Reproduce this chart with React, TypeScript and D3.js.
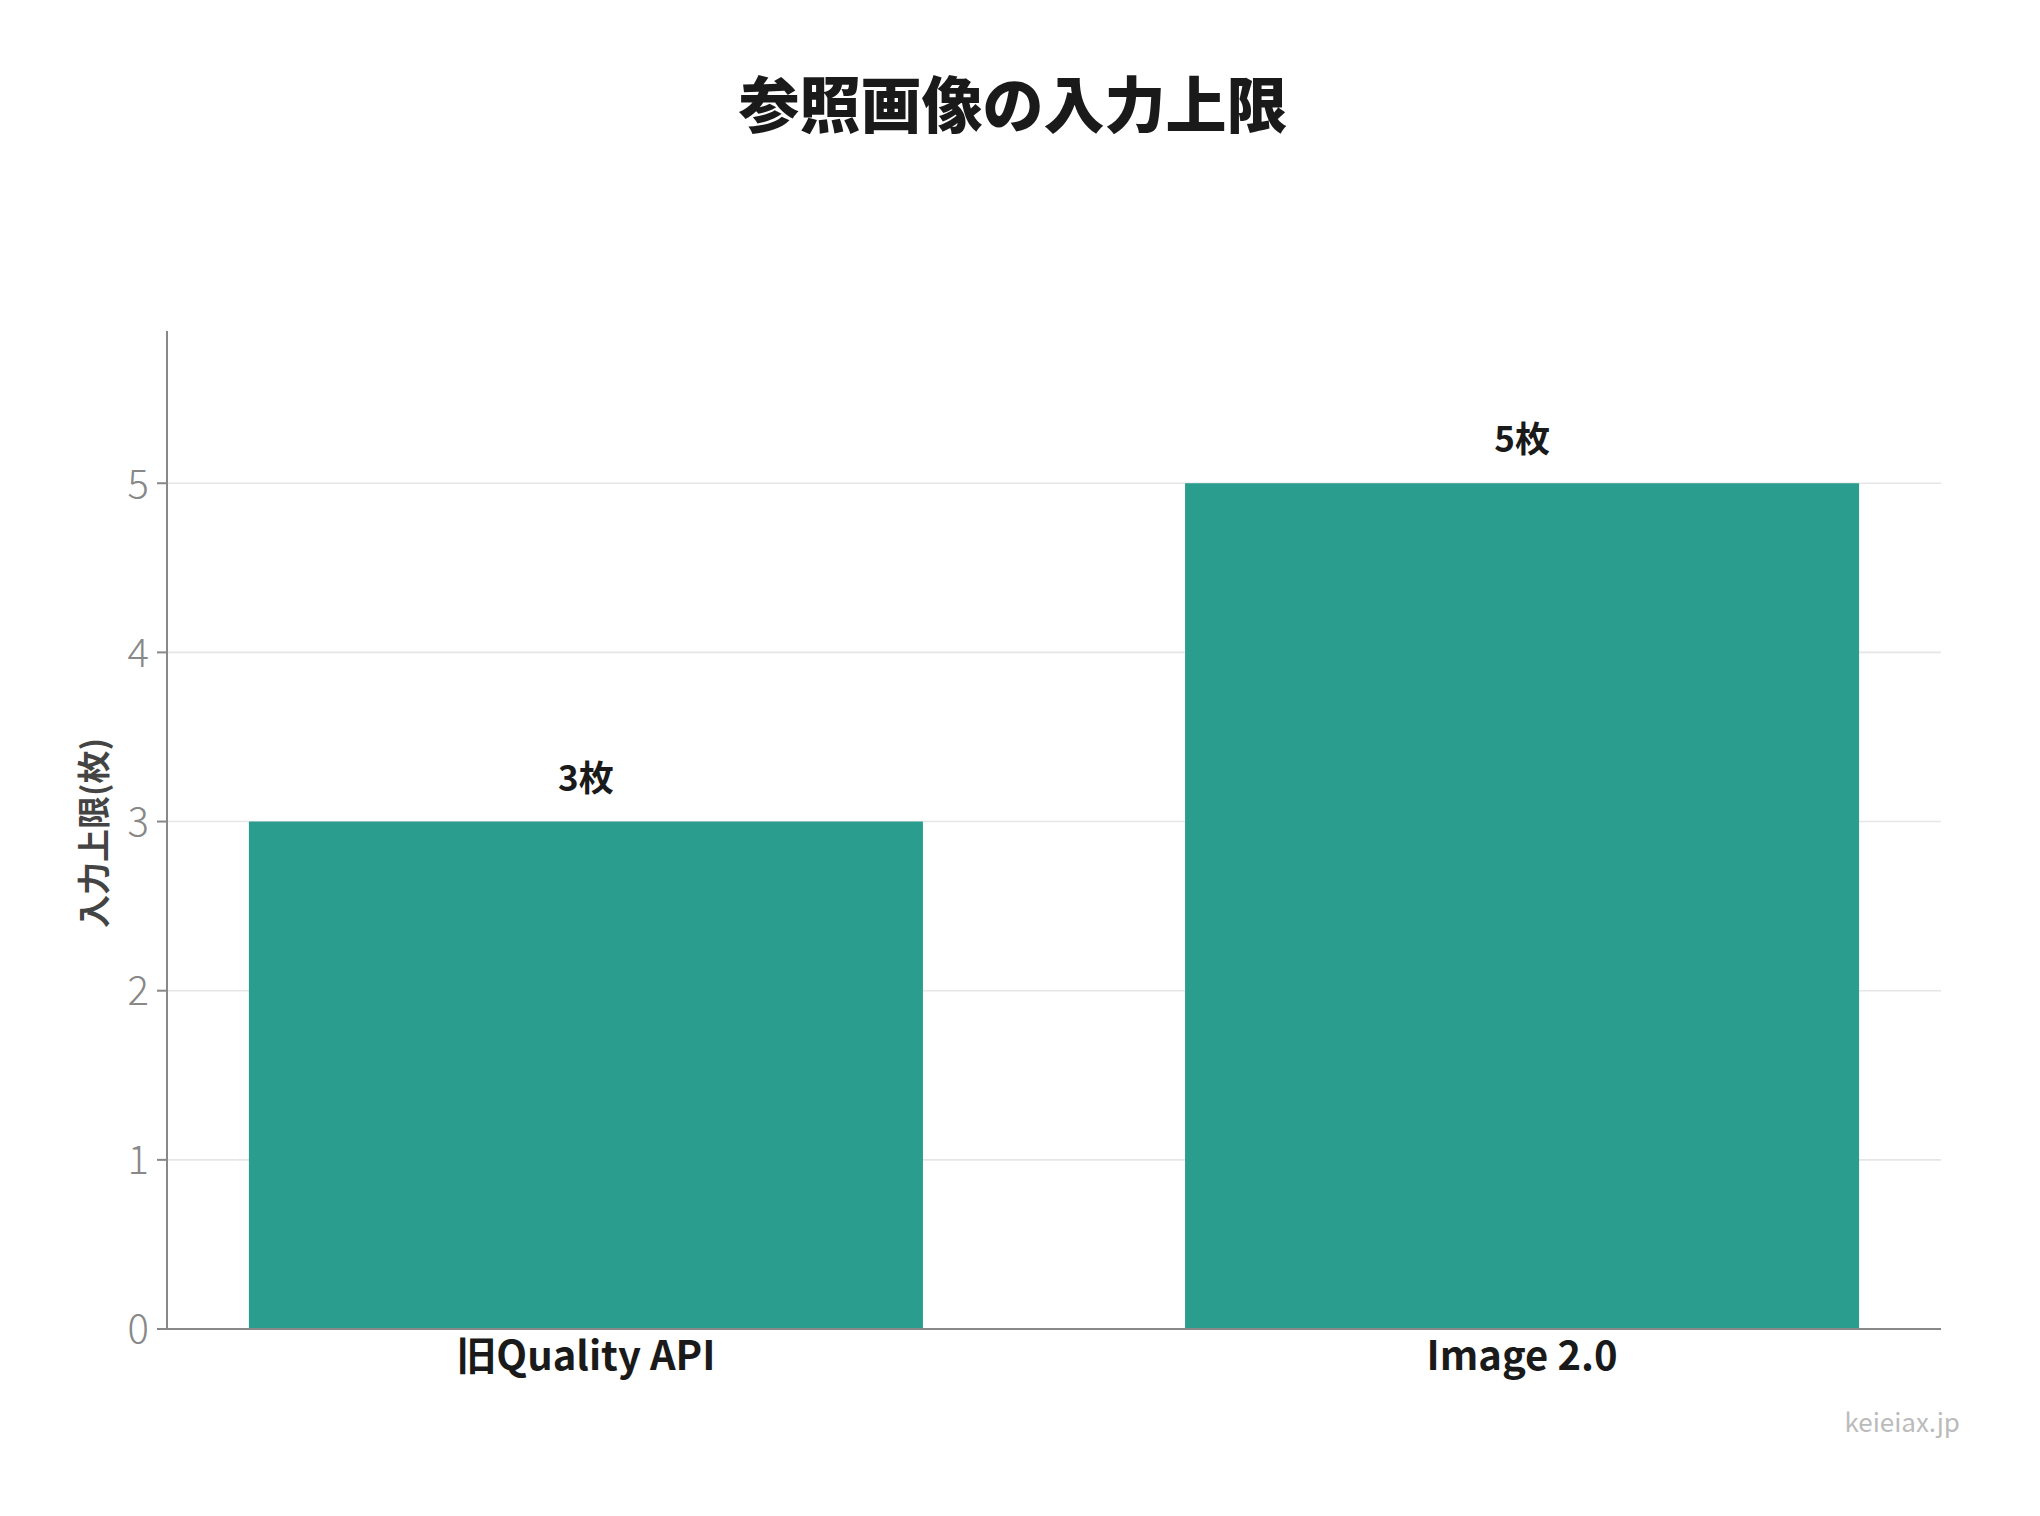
import React from "react";
import * as d3 from "d3";

const categories = ["旧Quality API", "Image 2.0"];
const values = [3, 5];
const valueLabels = ["3枚", "5枚"];
const yTicks = [0, 1, 2, 3, 4, 5];
const title = "参照画像の入力上限";
const yAxisLabel = "入力上限(枚)";
const watermark = "keieiax.jp";

const W = 2040;
const H = 1516;
const margin = { left: 167, right: 2040 - 1941, top: 331, bottom: 1516 - 1329 };
const FONT = "'Noto Sans CJK JP', 'Noto Sans', sans-serif";

export default function App() {
  const x = d3
    .scaleBand<string>()
    .domain(categories)
    .range([margin.left, W - margin.right])
    .paddingInner(0.28)
    .paddingOuter(0.0875);
  const y = d3
    .scaleLinear()
    .domain([0, 5.9])
    .range([H - margin.bottom, margin.top]);
  const x0 = margin.left;
  const x1 = W - margin.right;
  const y0 = y(0);

  return (
    <svg
      width={W}
      height={H}
      viewBox={`0 0 ${W} ${H}`}
      style={{ position: "absolute", left: 0, top: 0, background: "#fff" }}
    >
      <rect x={0} y={0} width={W} height={H} fill="#fff" />
      <text
        x={1013}
        y={128}
        textAnchor="middle"
        fontFamily={FONT}
        fontWeight={900}
        fontSize={61}
        fill="#1a1a1a"
      >
        {title}
      </text>
      {/* grid */}
      {yTicks.map((t) => (
        <line
          key={"g" + t}
          x1={x0}
          x2={x1}
          y1={y(t)}
          y2={y(t)}
          stroke="#e6e6e6"
          strokeWidth={1.6}
        />
      ))}
      {/* bars */}
      {categories.map((c, i) => (
        <rect
          key={c}
          x={x(c)}
          y={y(values[i])}
          width={x.bandwidth()}
          height={y0 - y(values[i])}
          fill="#2a9d8f"
        />
      ))}
      {/* value labels */}
      {categories.map((c, i) => (
        <text
          key={"v" + c}
          x={(x(c) as number) + x.bandwidth() / 2}
          y={y(values[i]) - 31}
          textAnchor="middle"
          fontFamily={FONT}
          fontWeight={700}
          fontSize={35}
          fill="#1a1a1a"
        >
          {valueLabels[i]}
        </text>
      ))}
      {/* axes */}
      <line x1={x0} x2={x0} y1={margin.top} y2={y0} stroke="#888" strokeWidth={2} />
      <line x1={x0} x2={x1} y1={y0} y2={y0} stroke="#888" strokeWidth={2} />
      {yTicks.map((t) => (
        <g key={"t" + t}>
          <line x1={x0 - 10} x2={x0} y1={y(t)} y2={y(t)} stroke="#888" strokeWidth={2} />
          <text
            x={x0 - 18}
            y={y(t)}
            dy="0.36em"
            textAnchor="end"
            fontFamily={FONT}
            fontWeight={300}
            fontSize={40}
            fill="#888"
          >
            {t}
          </text>
        </g>
      ))}
      {categories.map((c) => (
        <text
          key={"x" + c}
          x={(x(c) as number) + x.bandwidth() / 2}
          y={y0 + 41}
          textAnchor="middle"
          fontFamily={FONT}
          fontWeight={700}
          fontSize={40}
          fill="#1a1a1a"
        >
          {c}
        </text>
      ))}
      <text
        transform={`translate(106, 833) rotate(-90)`}
        textAnchor="middle"
        fontFamily={FONT}
        fontWeight={700}
        fontSize={33}
        fill="#444"
      >
        {yAxisLabel}
      </text>
      <text
        x={1960}
        y={1432}
        textAnchor="end"
        fontFamily={FONT}
        fontWeight={400}
        fontSize={26}
        fill="#bbb"
      >
        {watermark}
      </text>
    </svg>
  );
}
